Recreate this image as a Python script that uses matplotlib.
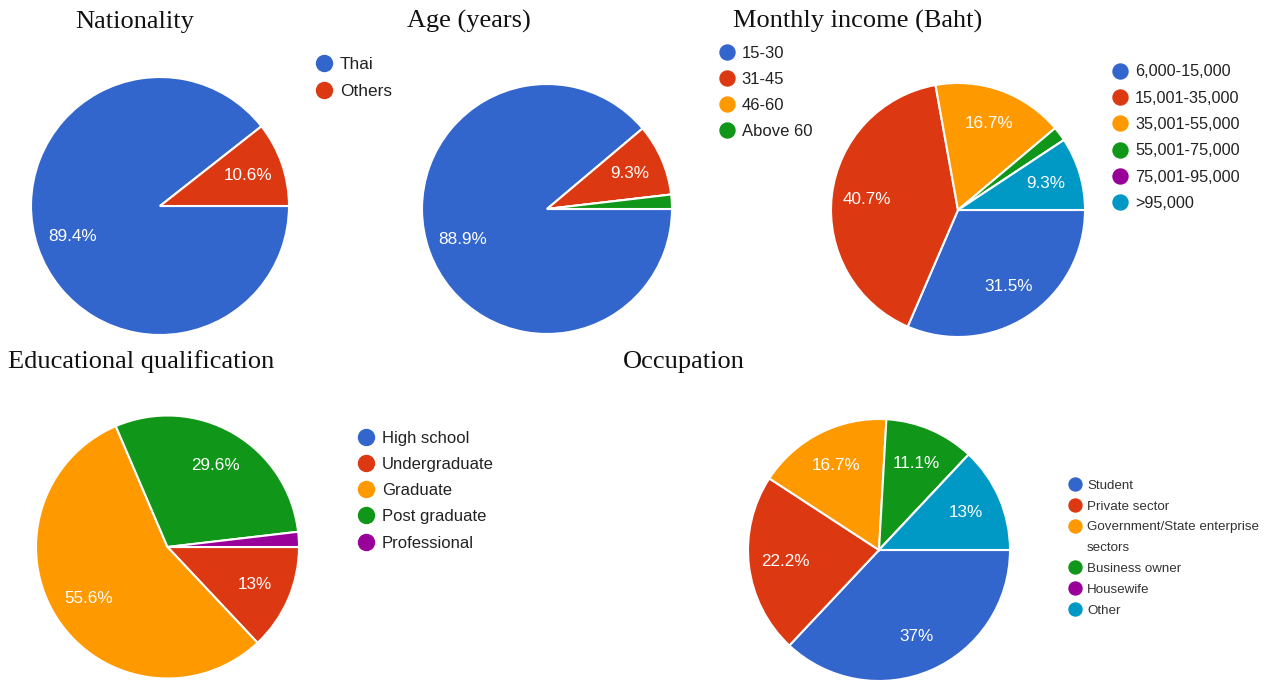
import matplotlib
matplotlib.use("Agg")
import matplotlib.pyplot as plt
from matplotlib.lines import Line2D
from matplotlib.font_manager import FontProperties

# ---------------- data ----------------
nat_labels = ["Thai", "Others"]
nat_values = [89.4, 10.6]

age_labels = ["15-30", "31-45", "46-60", "Above 60"]
age_values = [88.9, 9.3, 0.0, 1.85]

income_labels = ["6,000-15,000", "15,001-35,000", "35,001-55,000",
                 "55,001-75,000", "75,001-95,000", ">95,000"]
income_values = [31.5, 40.7, 16.7, 1.85, 0.0, 9.3]

edu_labels = ["High school", "Undergraduate", "Graduate", "Post graduate", "Professional"]
edu_values = [0.0, 13.0, 55.6, 29.6, 1.85]

occ_labels = ["Student", "Private sector", "Government/State enterprise", "Business owner",
              "Housewife", "Other"]
occ_label_continuation = "sectors"
occ_values = [37.0, 22.2, 16.7, 11.1, 0.0, 13.0]

titles = ["Nationality", "Age (years)", "Monthly income (Baht)",
          "Educational qualification", "Occupation"]

BLUE, RED, ORANGE, GREEN, PURPLE, TEAL = ("#3366CC", "#DC3912", "#FF9900",
                                          "#109618", "#990099", "#0099C6")
nat_colors = [BLUE, RED]
age_colors = [BLUE, RED, ORANGE, GREEN]
income_colors = [BLUE, RED, ORANGE, GREEN, PURPLE, TEAL]
edu_colors = [BLUE, RED, ORANGE, GREEN, PURPLE]
occ_colors = [BLUE, RED, ORANGE, GREEN, PURPLE, TEAL]

# ---------------- layout ----------------
W, H, DPI = 1264, 680, 100
SANS = "Liberation Sans"
SERIF = "Liberation Serif"

fig = plt.figure(figsize=(W / DPI, H / DPI), dpi=DPI)
fig.patch.set_facecolor("white")
renderer = fig.canvas.get_renderer()


def fmt_pct(p):
    if p < 5:
        return ""
    s = f"{p:.1f}"
    if s.endswith(".0"):
        s = s[:-2]
    return s + "%"


def add_pie(values, colors, cx, cy, r, pctd=0.72, fs=12.3):
    m = 1.03
    ax = fig.add_axes([(cx - r * m) / W, (H - cy - r * m) / H,
                       2 * r * m / W, 2 * r * m / H])
    ax.pie(values, colors=colors, startangle=0, counterclock=False,
           autopct=fmt_pct, pctdistance=pctd,
           wedgeprops=dict(edgecolor="white", linewidth=1.5),
           textprops=dict(color="white", fontsize=fs, family=SANS))
    ax.set_xlim(-m, m)
    ax.set_ylim(-m, m)
    ax.set_aspect("equal")
    ax.axis("off")
    return ax


def add_legend(labels, colors, mx, my, tx, pitch, fs, msize_px, tcolor="#222222"):
    fs_px = fs * DPI / 72.0
    fp = FontProperties(family=SANS, size=fs)
    _, h_, d_ = renderer.get_text_width_height_descent("lp", fp, ismath=False)
    hl = 1.0
    x0 = mx - hl * fs_px / 2.0
    htp = (tx - (x0 + hl * fs_px)) / fs_px
    ls = (pitch - h_) / fs_px
    top = my + 0.35 * fs_px - max(0.7 * fs_px, h_ - d_)
    handles = []
    for c in colors:
        if c is None:
            handles.append(Line2D([], [], ls="none", marker="none"))
        else:
            handles.append(Line2D([], [], ls="none", marker="o",
                                  markersize=msize_px * 72.0 / DPI,
                                  markerfacecolor=c, markeredgecolor=c))
    leg = fig.legend(handles, labels, loc="upper left",
                     bbox_to_anchor=(x0 / W, 1 - top / H),
                     bbox_transform=fig.transFigure, frameon=False,
                     borderpad=0, borderaxespad=0, handlelength=hl,
                     handletextpad=htp, labelspacing=ls, prop=fp,
                     labelcolor=tcolor, numpoints=1)
    return leg


def add_title(text, x, baseline):
    fig.text(x / W, 1 - baseline / H, text, fontsize=19, family=SERIF,
             ha="left", va="baseline", color="#111111")


# titles
add_title(titles[0], 75, 28)
add_title(titles[1], 407, 28)
add_title(titles[2], 733, 28)
add_title(titles[3], 8, 368)
add_title(titles[4], 623, 368)

# pies
add_pie(nat_values, nat_colors, 160, 206, 129)
add_pie(age_values, age_colors, 547, 209, 125)
add_pie(income_values, income_colors, 958, 210, 127)
add_pie(edu_values, edu_colors, 167.5, 547, 131.5)
add_pie(occ_values, occ_colors, 879, 550, 131)

# legends
add_legend(nat_labels, nat_colors, 324, 63.3, 340, 27, 12.4, 16)
add_legend(age_labels, age_colors, 726.7, 51.7, 741.7, 26.1, 12.0, 15)
add_legend(income_labels, income_colors, 1120, 70.7, 1135, 26.3, 11.7, 15)
add_legend(edu_labels, edu_colors, 365.7, 436.7, 381.7, 26.25, 12.0, 16)
occ_leg_labels = occ_labels[:3] + [occ_label_continuation] + occ_labels[3:]
occ_leg_colors = occ_colors[:3] + [None] + occ_colors[3:]
add_legend(occ_leg_labels, occ_leg_colors, 1075, 484, 1087, 20.5, 9.6, 13, "#333333")

fig.savefig("out.png", dpi=DPI, facecolor="white")
